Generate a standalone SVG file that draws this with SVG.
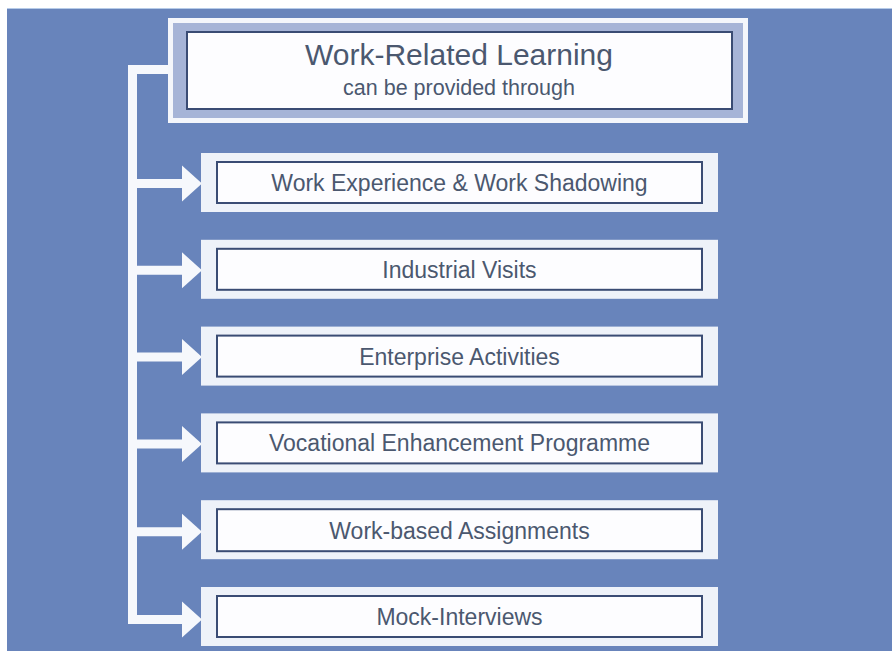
<svg xmlns="http://www.w3.org/2000/svg" width="892" height="652" viewBox="0 0 892 652">
  <defs>
    <style>
      .frame { fill: #eef2f9; }
      .inner { fill: #fdfdff; stroke: #3a4c74; stroke-width: 2; }
      .lbl { font-family: "Liberation Sans", Arial, sans-serif; font-size: 23px; fill: #4b586f; text-anchor: middle; }
      .wire { fill: none; stroke: #f6f8fc; stroke-width: 9; }
      .head { fill: #f6f8fc; }
    </style>
  </defs>
  <rect x="0" y="0" width="892" height="652" fill="#ffffff"/>
  <rect x="7" y="9" width="885" height="642" fill="#6884bb"/>
  <rect x="7" y="8" width="885" height="1" fill="#b6cbe8"/>

  <g id="connectors">
    <path class="wire" d="M169,69.5 H132.5 V624"/>
    <line class="wire" x1="132" y1="183.5" x2="183" y2="183.5"/>
    <polygon class="head" points="182,165.5 202,183.5 182,201.5"/>
    <line class="wire" x1="132" y1="270.3" x2="183" y2="270.3"/>
    <polygon class="head" points="182,252.3 202,270.3 182,288.3"/>
    <line class="wire" x1="132" y1="357.1" x2="183" y2="357.1"/>
    <polygon class="head" points="182,339.1 202,357.1 182,375.1"/>
    <line class="wire" x1="132" y1="443.9" x2="183" y2="443.9"/>
    <polygon class="head" points="182,425.9 202,443.9 182,461.9"/>
    <line class="wire" x1="132" y1="531.7" x2="183" y2="531.7"/>
    <polygon class="head" points="182,513.7 202,531.7 182,549.7"/>
    <line class="wire" x1="132" y1="619.5" x2="183" y2="619.5"/>
    <polygon class="head" points="182,601.5 202,619.5 182,637.5"/>
  </g>

  <g id="title">
    <rect x="168" y="18" width="580" height="105" fill="#f4f6fb"/>
    <rect x="173" y="23" width="570" height="95" fill="#a6b4d7"/>
    <rect x="187" y="32" width="545" height="77" class="inner"/>
    <text x="459" y="65" font-family="Liberation Sans, Arial, sans-serif" font-size="30" fill="#4b586f" text-anchor="middle">Work-Related Learning</text>
    <text x="459" y="95" font-family="Liberation Sans, Arial, sans-serif" font-size="21.5" fill="#4b586f" text-anchor="middle">can be provided through</text>
  </g>

  <g id="item1">
    <rect class="frame" x="201" y="153" width="517" height="59"/>
    <rect class="inner" x="217" y="162" width="485" height="41"/>
    <text class="lbl" x="459.5" y="191">Work Experience &amp; Work Shadowing</text>
  </g>
  <g id="item2">
    <rect class="frame" x="201" y="239.8" width="517" height="59"/>
    <rect class="inner" x="217" y="248.8" width="485" height="41"/>
    <text class="lbl" x="459.5" y="277.8">Industrial Visits</text>
  </g>
  <g id="item3">
    <rect class="frame" x="201" y="326.6" width="517" height="59"/>
    <rect class="inner" x="217" y="335.6" width="485" height="41"/>
    <text class="lbl" x="459.5" y="364.6">Enterprise Activities</text>
  </g>
  <g id="item4">
    <rect class="frame" x="201" y="413.4" width="517" height="59"/>
    <rect class="inner" x="217" y="422.4" width="485" height="41"/>
    <text class="lbl" x="459.5" y="451.4">Vocational Enhancement Programme</text>
  </g>
  <g id="item5">
    <rect class="frame" x="201" y="500.2" width="517" height="59"/>
    <rect class="inner" x="217" y="509.2" width="485" height="42"/>
    <text class="lbl" x="459.5" y="538.7">Work-based Assignments</text>
  </g>
  <g id="item6">
    <rect class="frame" x="201" y="587" width="517" height="59"/>
    <rect class="inner" x="217" y="596" width="485" height="41"/>
    <text class="lbl" x="459.5" y="625">Mock-Interviews</text>
  </g>
</svg>
